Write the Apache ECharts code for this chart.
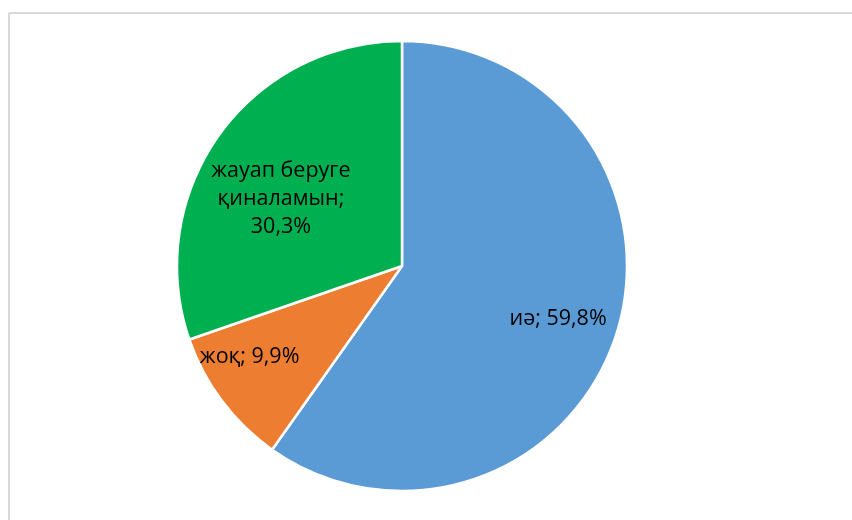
<!DOCTYPE html>
<html>
<head>
<meta charset="utf-8">
<script src="https://cdn.jsdelivr.net/npm/echarts@6/dist/echarts.min.js"></script>
<style>
  html, body { margin: 0; padding: 0; background: #fff; }
  #chart { width: 852px; height: 520px; }
</style>
</head>
<body>
<div id="chart"></div>
<script>
// answers (kazakh survey)
const categories = ['иә', 'жоқ', 'жауап беруге\nқиналамын'];
const shares = [59.8, 9.9, 30.3];
const colors = ['#5B9BD5', '#ED7D31', '#00B050'];

// Excel puts the labels a bit further out than echarts 'inside'
const labelNudge = [[46, 18], [-60, 22], [-27, 0]];

const chart = echarts.init(document.getElementById('chart'));

const option = {
  backgroundColor: '#fff',
  animation: false,
  graphic: [
    {
      type: 'line',
      shape: { x1: 9, y1: 13, x2: 852, y2: 13 },
      style: { stroke: '#D9D9D9', lineWidth: 2 },
    },
    {
      type: 'line',
      shape: { x1: 9, y1: 13, x2: 9, y2: 520 },
      style: { stroke: '#D9D9D9', lineWidth: 2 },
    },
  ],
  series: [
    {
      type: 'pie',
      center: [402, 266],
      radius: [0, 225],
      startAngle: 90,
      clockwise: true,
      label: {
        show: true,
        position: 'inside',
        color: '#000',
        fontFamily: '"Open Sans", "Noto Sans", sans-serif',
        fontSize: 21.5,
        lineHeight: 28,
        formatter: (p) => {
          const pct = p.value.toFixed(1).replace('.', ',') + '%';
          // long name wraps like in Excel
          return p.name.indexOf('\n') >= 0 ? `${p.name};\n${pct}` : `${p.name}; ${pct}`;
        },
      },
      labelLine: { show: false },
      itemStyle: { borderColor: '#fff', borderWidth: 2.5 },
      emphasis: { disabled: true },
      data: categories.map((name, i) => ({
        name,
        value: shares[i],
        itemStyle: { color: colors[i] },
        label: { offset: labelNudge[i] },
      })),
    },
  ],
};

chart.setOption(option);
</script>
</body>
</html>
